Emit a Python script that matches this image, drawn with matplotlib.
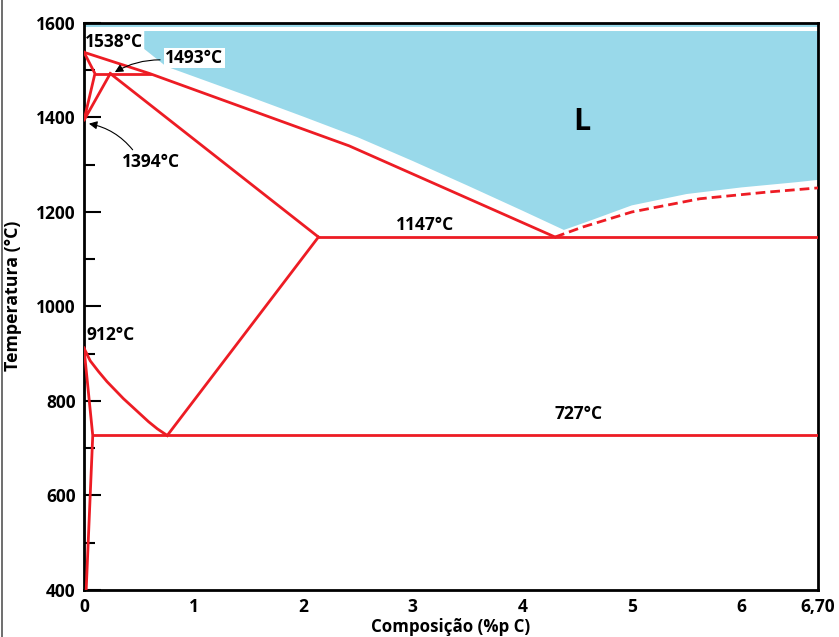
import numpy as np
import matplotlib.pyplot as plt

plt.rcParams['font.family'] = ['Open Sans', 'DejaVu Sans']
plt.rcParams['font.weight'] = 'bold'

RED = "#ED1C24"
BLUE = "#99D9EA"

# phase boundaries (composition %C, temperature C)
liquidus_x = [0.0, 0.6, 2.42, 4.3]
liquidus_t = [1538, 1493, 1340, 1147]
cementite_liq_x = [4.3, 4.55, 5.0, 5.62, 6.23, 6.7]
cementite_liq_t = [1147, 1168, 1200, 1228, 1242, 1251]
delta_x = [0.0, 0.1, 0.0, 0.24]
delta_t = [1538, 1493, 1394, 1493]
peritectic_x = [0.1, 0.6]
peritectic_t = [1493, 1493]
acm_x = [0.24, 2.14]
acm_t = [1493, 1147]
eutectic_x = [2.14, 6.7]
eutectic_t = [1147, 1147]
a3_x = [0.0, 0.057, 0.134, 0.21, 0.285, 0.36, 0.44, 0.515, 0.59, 0.67, 0.76]
a3_t = [912, 885, 862, 841, 823, 805, 788, 772, 756, 741, 727]
gamma_low_x = [0.76, 2.14]
gamma_low_t = [727, 1147]
alpha_x = [0.0, 0.08, 0.02]
alpha_t = [912, 727, 400]
eutectoid_x = [0.08, 6.7]
eutectoid_t = [727, 727]

# liquid region outline (blue fill)
liq_fill_x = [0.55, 0.55, 0.75, 1.0, 1.5, 2.0, 2.5, 3.0, 3.5, 4.0, 4.38,
              4.6, 5.0, 5.5, 6.0, 6.5, 6.7, 6.7]
liq_fill_t = [1583, 1545, 1508, 1487, 1445, 1402, 1358, 1308, 1256, 1203, 1162,
              1180, 1214, 1238, 1252, 1263, 1268, 1583]

xticks = [0, 1, 2, 3, 4, 5, 6, 6.7]
xtick_labels = ["0", "1", "2", "3", "4", "5", "6", "6,70"]
yticks = [400, 600, 800, 1000, 1200, 1400, 1600]

fig = plt.figure(figsize=(8.39, 6.37), dpi=100)
ax = fig.add_axes([0.1001, 0.0738, 0.8749, 0.8901])

# liquid zone
ax.axhspan(1591, 1600, color=BLUE, lw=0, zorder=0)
ax.fill(liq_fill_x, liq_fill_t, color=BLUE, lw=0, zorder=0)

lw = 2.0
for xs, ts in [(liquidus_x, liquidus_t), (delta_x, delta_t),
               (peritectic_x, peritectic_t), (acm_x, acm_t),
               (eutectic_x, eutectic_t), (a3_x, a3_t),
               (gamma_low_x, gamma_low_t), (alpha_x, alpha_t),
               (eutectoid_x, eutectoid_t)]:
    ax.plot(xs, ts, color=RED, lw=lw, zorder=3, solid_joinstyle="round")
ax.plot(cementite_liq_x, cementite_liq_t, color=RED, lw=lw, zorder=3,
        dashes=(3.5, 1.8))

# labels
fs = 12.5
ax.text(0.01, 1560, "1538°C", fontsize=fs, va="center", ha="left", zorder=5)
ax.text(0.74, 1526, "1493°C", fontsize=fs, va="center", ha="left", zorder=5,
        bbox=dict(facecolor="white", edgecolor="none", pad=1))
ax.text(0.35, 1306, "1394°C", fontsize=fs, va="center", ha="left", zorder=5)
ax.text(0.02, 940, "912°C", fontsize=fs, va="center", ha="left", zorder=5)
ax.text(3.11, 1172, "1147°C", fontsize=fs, va="center", ha="center", zorder=5)
ax.text(4.51, 773, "727°C", fontsize=fs, va="center", ha="center", zorder=5)
ax.text(4.54, 1390, "L", fontsize=22, va="center", ha="center", zorder=5)

ax.annotate("", xy=(0.26, 1493), xytext=(0.72, 1522),
            arrowprops=dict(arrowstyle="-|>", color="black", lw=0.8,
                            mutation_scale=12,
                            connectionstyle="arc3,rad=0.15"), zorder=6)
ax.annotate("", xy=(0.02, 1388), xytext=(0.46, 1327),
            arrowprops=dict(arrowstyle="-|>", color="black", lw=0.8,
                            mutation_scale=12,
                            connectionstyle="arc3,rad=0.2"), zorder=6)

ax.set_xlim(0, 6.7)
ax.set_ylim(400, 1600)
ax.set_xticks(xticks)
ax.set_xticklabels(xtick_labels)
ax.set_yticks(yticks)
ax.set_yticks([500, 700, 900, 1100, 1300, 1500], minor=True)
ax.tick_params(axis="x", length=0, pad=6, labelsize=fs)
ax.tick_params(axis="y", which="major", direction="in", length=12,
               width=1.5, pad=6, labelsize=fs)
ax.tick_params(axis="y", which="minor", direction="in", length=8,
               width=1.5)
for s in ax.spines.values():
    s.set_linewidth(2)

ax.set_xlabel("Composição (%p C)", fontsize=12.2, fontweight="bold", labelpad=1)
ax.set_ylabel("Temperatura (°C)", fontsize=12.8, fontweight="bold")
ax.yaxis.set_label_coords(-0.085, 0.518)

# thin frame line at the left edge of the picture
fig.add_artist(plt.Line2D([0.002, 0.002], [0, 1], color="#555555", lw=1.2))

fig.savefig("out.png", dpi=100)
